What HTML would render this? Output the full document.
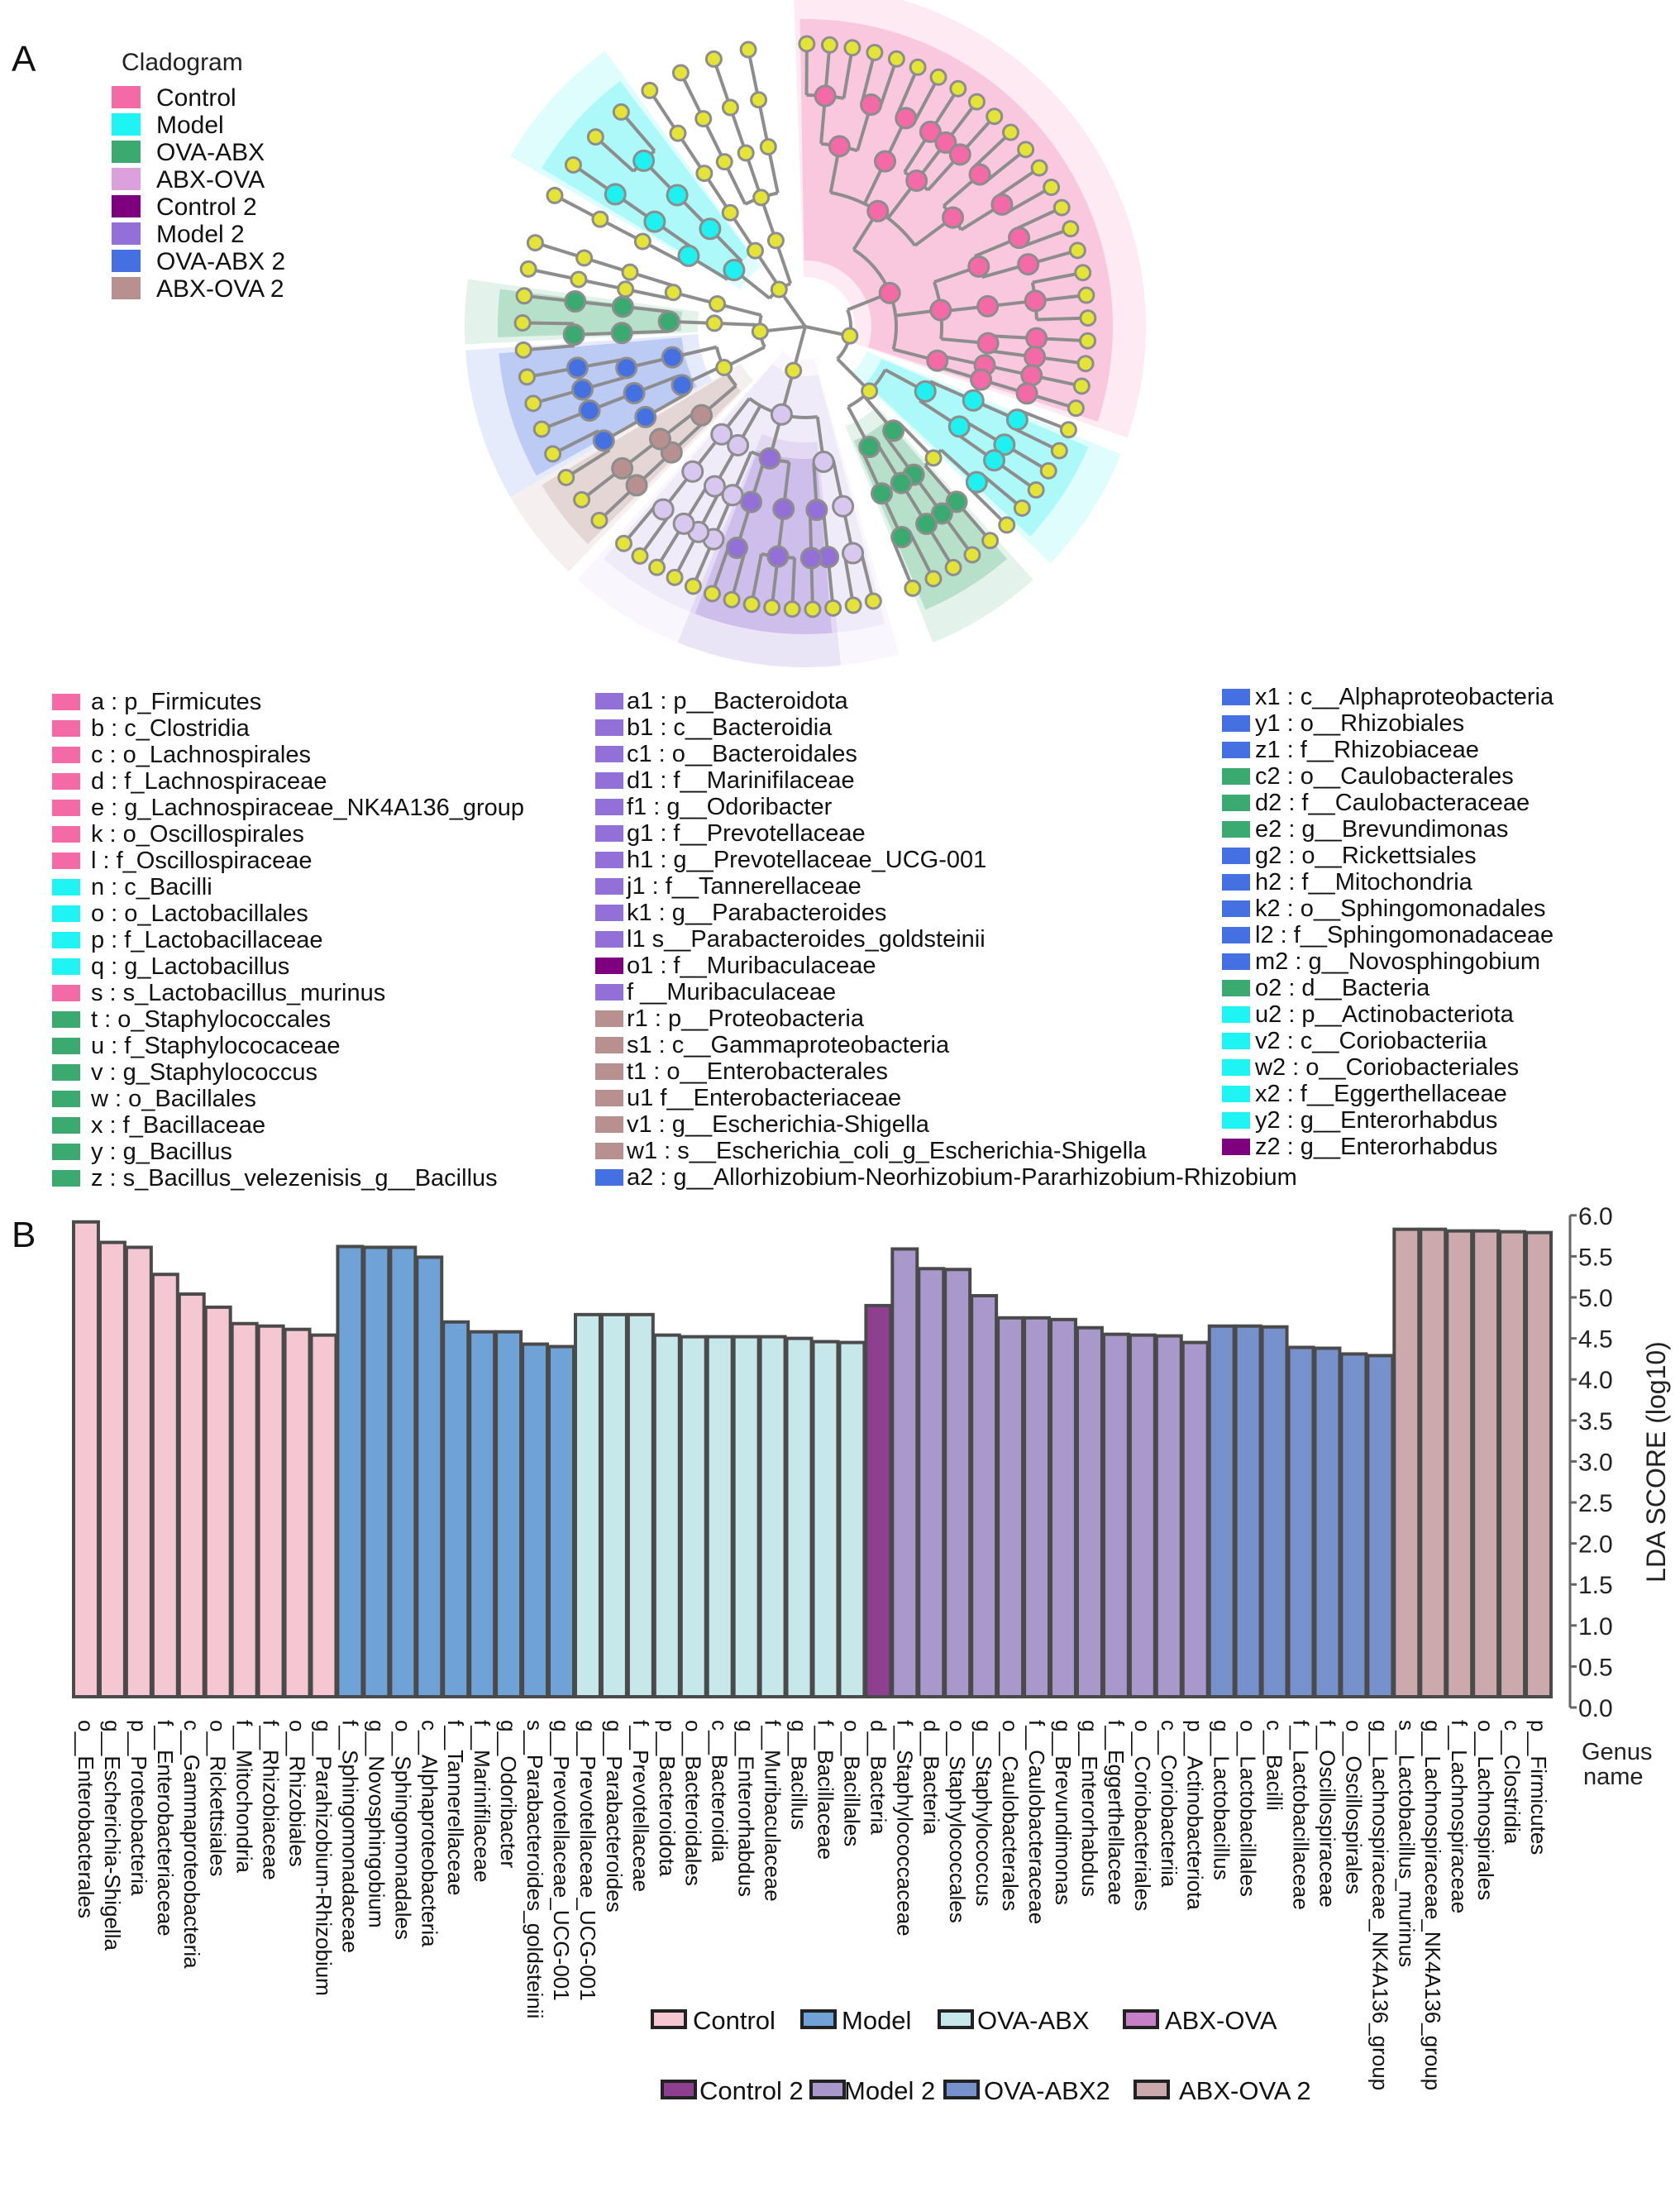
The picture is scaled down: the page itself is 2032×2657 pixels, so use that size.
<!DOCTYPE html>
<html><head><meta charset="utf-8">
<style>
html,body{margin:0;padding:0;background:#fff;}
body{width:2032px;height:2657px;position:relative;overflow:hidden;font-family:"Liberation Sans",Arial,sans-serif;}
svg{position:absolute;left:0;top:0;}
text{font-family:"Liberation Sans",Arial,sans-serif;}
</style></head>
<body>
<svg id="fig" width="2032" height="2657" viewBox="0 0 2032 2657">
  <text x="14" y="86" font-size="44" fill="#111">A</text>
  <text x="14" y="1508" font-size="44" fill="#111">B</text>
  <g id="clado"></g>
  <g id="cladoLegend"></g>
  <g id="taxLegend"></g>
  <g id="bars"></g>
</svg>
<script>
// ---------- LDA bar chart data ----------
const categories = ["o__Enterobacterales","g__Escherichia-Shigella","p__Proteobacteria","f__Enterobacteriaceae","c__Gammaproteobacteria","o__Rickettsiales","f__Mitochondria","f__Rhizobiaceae","o__Rhizobiales","g__Parahizobium-Rhizobium",
"f__Sphingomonadaceae","g__Novosphingobium","o__Sphingomonadales","c__Alphaproteobacteria","f__Tannerellaceae","f__Marinifilaceae","g__Odoribacter","s__Parabacteroides_goldsteinii","g__Prevotellaceae_UCG-001",
"g__Prevotellaceae_UCG-001","g__Parabacteroides","f__Prevotellaceae","p__Bacteroidota","o__Bacteroidales","c__Bacteroidia","g__Enterorhabdus","f__Muribaculaceae","g__Bacillus","f__Bacillaceae","o__Bacillales",
"d__Bacteria",
"f__Staphylococcaceae","d__Bacteria","o__Staphylococcales","g__Staphylococcus","o__Caulobacterales","f__Caulobacteraceae","g__Brevundimonas","g__Enterorhabdus","f__Eggerthellaceae","o__Coriobacteriales","c__Coriobacteriia","p__Actinobacteriota",
"g__Lactobacillus","o__Lactobacillales","c__Bacilli","f__Lactobacillaceae","f__Oscillospiraceae","o__Oscillospirales","g__Lachnospiraceae_NK4A136_group",
"s__Lactobacillus_murinus","g__Lachnospiraceae_NK4A136_group","f__Lachnospiraceae","o__Lachnospirales","c__Clostridia","p__Firmicutes"];
const values = [5.92,5.67,5.61,5.28,5.04,4.88,4.68,4.65,4.61,4.54,
5.62,5.61,5.61,5.49,4.70,4.58,4.58,4.43,4.40,
4.79,4.79,4.79,4.54,4.52,4.52,4.52,4.52,4.50,4.46,4.45,
4.90,
5.59,5.35,5.34,5.02,4.75,4.75,4.73,4.63,4.55,4.54,4.53,4.45,
4.65,4.65,4.64,4.39,4.38,4.31,4.29,
5.83,5.83,5.81,5.81,5.80,5.79];
const groups = [0,0,0,0,0,0,0,0,0,0, 1,1,1,1,1,1,1,1,1, 2,2,2,2,2,2,2,2,2,2,2, 4, 5,5,5,5,5,5,5,5,5,5,5,5, 6,6,6,6,6,6,6, 7,7,7,7,7,7];
const groupNames = ["Control","Model","OVA-ABX","ABX-OVA","Control 2","Model 2","OVA-ABX2","ABX-OVA 2"];
const yTicks = [0.0,0.5,1.0,1.5,2.0,2.5,3.0,3.5,4.0,4.5,5.0,5.5,6.0];
const barColors = ["#f5c7d3","#6fa3d8","#c6e8ea","#c77fc8","#8e3f8f","#a898cc","#7691cc","#cba9ac"];

// ---------- cladogram legend data ----------
const cladoGroups = ["Control","Model","OVA-ABX","ABX-OVA","Control 2","Model 2","OVA-ABX 2","ABX-OVA 2"];
const cladoColors = ["#f46aa6","#1ff4f4","#3aaa70","#dca0dc","#7e007e","#9270d8","#4470e2","#b99090"];

const taxCol1 = [["a : p_Firmicutes",0],["b : c_Clostridia",0],["c : o_Lachnospirales",0],["d : f_Lachnospiraceae",0],["e : g_Lachnospiraceae_NK4A136_group",0],["k : o_Oscillospirales",0],["l : f_Oscillospiraceae",0],["n : c_Bacilli",1],["o : o_Lactobacillales",1],["p : f_Lactobacillaceae",1],["q : g_Lactobacillus",1],["s : s_Lactobacillus_murinus",0],["t : o_Staphylococcales",2],["u : f_Staphylococaceae",2],["v : g_Staphylococcus",2],["w : o_Bacillales",2],["x : f_Bacillaceae",2],["y : g_Bacillus",2],["z : s_Bacillus_velezenisis_g__Bacillus",2]];
const taxCol2 = [["a1 : p__Bacteroidota",5],["b1 : c__Bacteroidia",5],["c1 : o__Bacteroidales",5],["d1 : f__Marinifilaceae",5],["f1 : g__Odoribacter",5],["g1 : f__Prevotellaceae",5],["h1 : g__Prevotellaceae_UCG-001",5],["j1 : f__Tannerellaceae",5],["k1 : g__Parabacteroides",5],["l1  s__Parabacteroides_goldsteinii",5],["o1 : f__Muribaculaceae",4],["f __Muribaculaceae",5],["r1 : p__Proteobacteria",7],["s1 : c__Gammaproteobacteria",7],["t1 : o__Enterobacterales",7],["u1  f__Enterobacteriaceae",7],["v1 : g__Escherichia-Shigella",7],["w1 : s__Escherichia_coli_g_Escherichia-Shigella",7],["a2 : g__Allorhizobium-Neorhizobium-Pararhizobium-Rhizobium",6]];
const taxCol3 = [["x1 : c__Alphaproteobacteria",6],["y1 : o__Rhizobiales",6],["z1 : f__Rhizobiaceae",6],["c2 : o__Caulobacterales",2],["d2 : f__Caulobacteraceae",2],["e2 : g__Brevundimonas",2],["g2 : o__Rickettsiales",6],["h2 : f__Mitochondria",6],["k2 : o__Sphingomonadales",6],["l2 : f__Sphingomonadaceae",6],["m2 : g__Novosphingobium",6],["o2 : d__Bacteria",2],["u2 : p__Actinobacteriota",1],["v2 : c__Coriobacteriia",1],["w2 : o__Coriobacteriales",1],["x2 : f__Eggerthellaceae",1],["y2 : g__Enterorhabdus",1],["z2 : g__Enterorhabdus",4]];

// ---------- cladogram tree structure (leaf counts per genus) ----------
const phyla = [
  {a0:-92,a1:70, kids:[ [[[3,2],[2],[1,1,1],[2,2]],[[2,1],[3],[1,1]],[[1],[1]]], [[[2],[1,1]],[[2,1],[1]],[[1],[2]]] ]},
  {a0:74,a1:132, kids:[ [[[2],[1,1]],[[3],[2],[1]],[[1,1]],[[2]]] ]},
  {a0:134,a1:200, kids:[ [[[1],[1]],[[2],[1]],[[1,1]]], [[[2],[1]]], [[[1],[1]]] ]},
  {a0:204,a1:262, kids:[ [[[1],[1]],[[2]]], [[[1]]], [[[1],[1],[1]]] ]}
];
const highlights = [
  [-92,19,80,"#f46aa6"],[22,44,100,"#1ff0f0"],[48,68,150,"#3aaa70"],[74,132,60,"#d8c8f0"],[84,112,160,"#9270d8"],
  [134,150,110,"#b99090"],[150,176,150,"#4470e2"],[177,188,150,"#3aaa70"],[210,234,110,"#1ff0f0"]
];
</script>
<script>
const NS="http://www.w3.org/2000/svg";
function mk(tag,attrs,parent){const e=document.createElementNS(NS,tag);for(const k in attrs)e.setAttribute(k,attrs[k]);if(parent)parent.appendChild(e);return e;}

// ===== Cladogram =====
(function(){
  const g=document.getElementById('clado');
  const cx=974, cy=395;
  const R=[0,55,110,165,222,280,342];
  const rad=a=>a*Math.PI/180;
  const pt=(a,r)=>[cx+r*Math.cos(rad(a)),cy+r*Math.sin(rad(a))];
  function sector(a0,a1,r0,r1){
    const [x0,y0]=pt(a0,r1),[x1,y1]=pt(a1,r1),[x2,y2]=pt(a1,r0),[x3,y3]=pt(a0,r0);
    const lg=(a1-a0)>180?1:0;
    return `M${x0},${y0}A${r1},${r1} 0 ${lg} 1 ${x1},${y1}L${x2},${y2}A${r0},${r0} 0 ${lg} 0 ${x3},${y3}Z`;
  }
  const halo=mk('path',{d:sector(-95,265,60,410),fill:"#fbe8f0",opacity:"0.55"},g);
  
  
  highlights.forEach((h,i)=>{
    const p1=mk('path',{d:sector(h[0],h[1],h[2]-20,412),fill:h[3],opacity:"0.14"},g);
    
    
    const p2=mk('path',{d:sector(h[0]+1,h[1]-1,h[2],372),fill:h[3],opacity:"0.26"},g);
    
    
  });
  function colorAt(a,r){
    let c=null;
    highlights.forEach(h=>{ if(a>=h[0]&&a<=h[1]&&r>=h[2]&&r<345) c=h[3]; });
    return c;
  }
  function countLeaves(n){ if(typeof n==='number') return n; return n.reduce((s,k)=>s+countLeaves(k),0); }
  const lines=mk('g',{stroke:"#8d8d8d","stroke-width":"4",fill:"none"},g);
  const nodes=mk('g',{},g);
  function node(a,r,isLeaf){
    const col=isLeaf?null:colorAt(a,r);
    const [x,y]=pt(a,r);
    const c=mk('circle',{cx:x,cy:y,r:col?12:9,fill:col||"#e4e436",stroke:"#8d8d8d","stroke-width":"3"},nodes);
    
    
  }
  function layout(n,depth,a0,a1){
    if(typeof n==='number'){
      const step=(a1-a0)/n; const angs=[];
      for(let i=0;i<n;i++){const a=a0+step*(i+0.5);angs.push(a);
        const [x0,y0]=pt(a,R[depth]);const [x1,y1]=pt(a,R[6]);
        mk('line',{x1:x0,y1:y0,x2:x1,y2:y1},lines);
        node(a,R[6],true);}
      const am=(angs[0]+angs[angs.length-1])/2;
      if(n>1){const [p,q]=pt(angs[0],R[depth]),[s,t]=pt(angs[n-1],R[depth]);
        mk('path',{d:`M${p},${q}A${R[depth]},${R[depth]} 0 0 1 ${s},${t}`},lines);}
      return am;
    }
    const tot=countLeaves(n); let cur=a0; const angs=[];
    n.forEach(k=>{const w=(a1-a0)*countLeaves(k)/tot; const a=layout(k,depth+1,cur,cur+w); angs.push(a);
      const [x0,y0]=pt(a,R[depth]),[x1,y1]=pt(a,R[depth+1]);
      mk('line',{x1:x0,y1:y0,x2:x1,y2:y1},lines);
      node(a,R[depth+1],false);
      cur+=w;});
    if(angs.length>1 && depth>0){const [p,q]=pt(angs[0],R[depth]),[s,t]=pt(angs[angs.length-1],R[depth]);
      const lg=(angs[angs.length-1]-angs[0])>180?1:0;
      mk('path',{d:`M${p},${q}A${R[depth]},${R[depth]} 0 ${lg} 1 ${s},${t}`},lines);}
    return (angs[0]+angs[angs.length-1])/2;
  }
  phyla.forEach(ph=>{
    const a=layout(ph.kids,1,ph.a0,ph.a1);
    const [x1,y1]=pt(a,R[1]);
    mk('line',{x1:cx,y1:cy,x2:x1,y2:y1},lines);
    node(a,R[1],false);
  });
})();

// ===== Cladogram legend =====
(function(){
  const g=document.getElementById('cladoLegend');
  const t=mk('text',{x:147,y:85,"font-size":"30",fill:"#222"},g); t.textContent="Cladogram";
  
  
  cladoGroups.forEach((n,i)=>{
    const y=117+i*33;
    const r=mk('rect',{x:135,y:y-13,width:35,height:27,fill:cladoColors[i]},g);
    
    
    const tx=mk('text',{x:189,y:y+11,"font-size":"30",fill:"#111"},g); tx.textContent=n;
    
    
  });
})();

// ===== Taxa legend =====
(function(){
  const g=document.getElementById('taxLegend');
  const cols=[[taxCol1,63,110,848],[taxCol2,720,758,847],[taxCol3,1478,1518,842]];
  cols.forEach(([list,sx,tx,y0])=>{
    list.forEach((it,i)=>{
      const y=y0+i*32;
      const r=mk('rect',{x:sx,y:y-9,width:34,height:20,fill:cladoColors[it[1]]},g);
      
      
      const t=mk('text',{x:tx,y:y+10,"font-size":"29",fill:"#111"},g); t.textContent=it[0];
      
      
    });
  });
})();

// ===== Bar chart =====
(function(){
  const g=document.getElementById('bars');
  const left=88, right=1877, axisX=1899, y0=2065, pxPerUnit=99.2, base=2052;
  const n=values.length, bw=(right-left)/n;
  const yS=v=>y0-v*pxPerUnit;
  const xS=i=>left+i*bw;
  values.forEach((v,i)=>{
    const r=mk('rect',{x:xS(i)+1,y:yS(v),width:bw-2,height:base-yS(v),fill:barColors[groups[i]],stroke:"#4a4a4a","stroke-width":"4"},g);
    
    
  });
  categories.forEach((c,i)=>{
    const x=xS(i)+bw/2-9;
    const t=mk('text',{x:0,y:0,"font-size":"26",fill:"#111",transform:`translate(${x},2080) rotate(90)`},g);
    t.textContent=c;
    
    
  });
  const ax=mk('line',{x1:axisX,y1:yS(6),x2:axisX,y2:yS(0),stroke:"#666","stroke-width":"3"},g);
  
  
  yTicks.forEach(v=>{
    const tk=mk('line',{x1:axisX,y1:yS(v),x2:axisX+8,y2:yS(v),stroke:"#666","stroke-width":"3"},g);
    
    
    const t=mk('text',{x:axisX+10,y:yS(v)+11,"font-size":"30",fill:"#222"},g);
    t.textContent=v.toFixed(1);
    
    
  });
  const yt=mk('text',{x:0,y:0,"font-size":"32",fill:"#222","text-anchor":"middle",transform:"translate(2014,1768) rotate(-90)"},g);
  yt.textContent="LDA SCORE (log10)";
  
  
  const gn1=mk('text',{x:1913,y:2128,"font-size":"29",fill:"#222"},g); gn1.textContent="Genus";
  
  
  const gn2=mk('text',{x:1915,y:2158,"font-size":"29",fill:"#222"},g); gn2.textContent="name";
  
  
  const leg=[[789,838,2442],[970,1018,2442],[1136,1182,2442],[1360,1409,2442],[801,846,2527],[981,1021,2527],[1143,1190,2527],[1373,1426,2527]];
  groupNames.forEach((nm,i)=>{
    const L=leg[i];
    const r=mk('rect',{x:L[0],y:L[2]-10,width:40,height:20,fill:barColors[i],stroke:"#222","stroke-width":"4"},g);
    
    
    const t=mk('text',{x:L[1],y:L[2]+12,"font-size":"31",fill:"#111"},g); t.textContent=nm;
    
    
  });
})();
</script>
</body></html>
